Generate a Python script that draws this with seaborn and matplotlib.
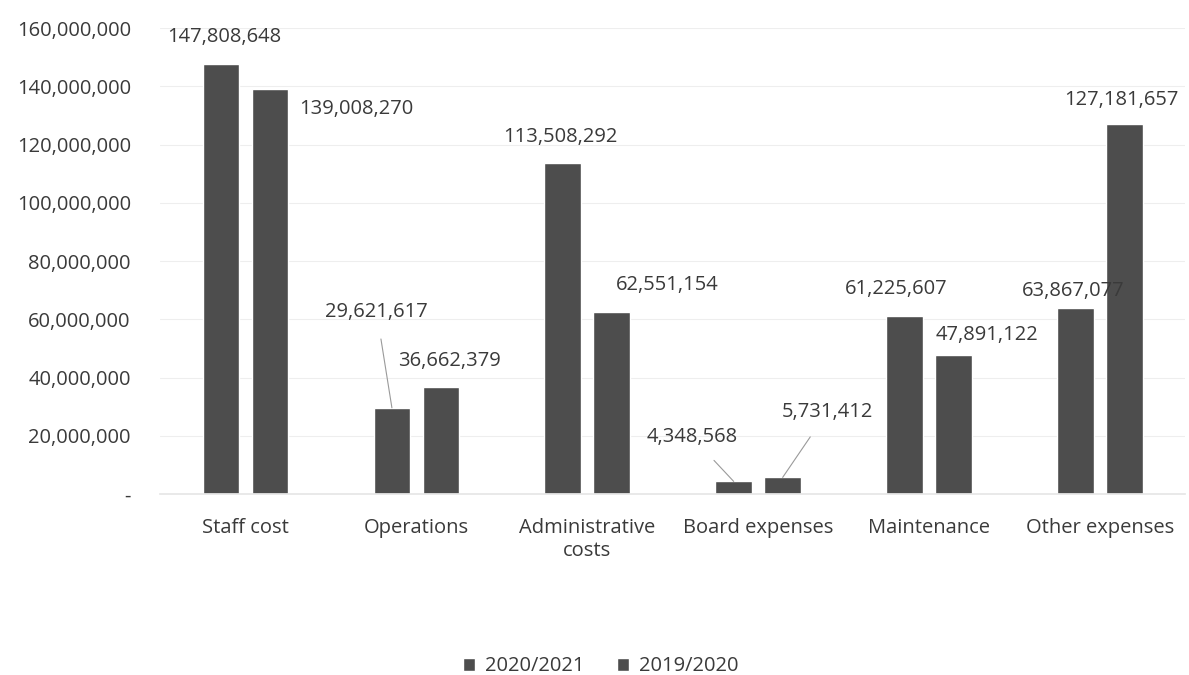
import matplotlib.pyplot as plt
import matplotlib.ticker as mticker
import pandas as pd
import seaborn as sns

# data
categories = ["Staff cost", "Operations", "Administrative\ncosts",
              "Board expenses", "Maintenance", "Other expenses"]
series_names = ["2020/2021", "2019/2020"]
values_2021 = [147808648, 29621617, 113508292, 4348568, 61225607, 63867077]
values_2020 = [139008270, 36662379, 62551154, 5731412, 47891122, 127181657]
y_ticks = [0, 20e6, 40e6, 60e6, 80e6, 100e6, 120e6, 140e6, 160e6]

df = pd.DataFrame({
    "category": categories * 2,
    "year": [series_names[0]] * 6 + [series_names[1]] * 6,
    "value": values_2021 + values_2020,
})

sns.set_theme(style="white")
plt.rcParams["font.family"] = ["Open Sans", "DejaVu Sans"]
text_col = "#3a3a3a"
fs = 14.5

fig = plt.figure(figsize=(11.89, 6.75), dpi=100)
ax = fig.add_axes([0.1346, 0.268, 0.8624, 0.6905])

sns.barplot(data=df, x="category", y="value", hue="year", order=categories,
            hue_order=series_names, palette=["#4d4d4d", "#4d4d4d"],
            width=0.573, gap=0.25, ax=ax, legend=True)

ax.set_ylim(0, 160e6)
ax.set_xlim(-0.5, 5.5)
ax.set_yticks(y_ticks)
ax.yaxis.set_major_formatter(mticker.FuncFormatter(
    lambda v, p: "-" if v == 0 else f"{v:,.0f}"))
ax.grid(axis="y", color="#eeeeee", linewidth=0.8)
ax.set_axisbelow(True)
for s in ["top", "right", "left"]:
    ax.spines[s].set_visible(False)
ax.spines["bottom"].set_color("#e6e6e6")
ax.tick_params(axis="both", length=0, labelsize=fs, colors=text_col)
ax.tick_params(axis="y", pad=21)
ax.tick_params(axis="x", pad=17)
ax.set_xlabel("")
ax.set_ylabel("")

# label placement offsets (points) per bar: (dx, dy, ha, leader line)
offsets_a = [(2, 19, "center", False), (-11, 69, "center", True),
             (-2, 19, "center", False), (-30, 32, "center", True),
             (-6, 19, "center", False), (-2, 12, "center", False)]
offsets_b = [(8, -14, "left", False), (6, 19, "center", False),
             (40, 19, "center", False), (32, 47, "center", True),
             (24, 14, "center", False), (-2, 17, "center", False)]

bars_a, bars_b = ax.containers[0], ax.containers[1]
for bars, vals, offs in [(bars_a, values_2021, offsets_a),
                         (bars_b, values_2020, offsets_b)]:
    for bar, v, (dx, dy, ha, lead) in zip(bars, vals, offs):
        x = bar.get_x() + bar.get_width() / 2
        if ha == "left":
            x = bar.get_x() + bar.get_width()
        ax.annotate(f"{v:,.0f}", xy=(x, v), xytext=(dx, dy),
                    textcoords="offset points", ha=ha, va="center",
                    fontsize=fs, color=text_col,
                    arrowprops=dict(arrowstyle="-", color="#9a9a9a", lw=0.8,
                                    shrinkA=10, shrinkB=0) if lead else None)

leg = ax.legend(loc="lower center", bbox_to_anchor=(0.43, -0.43), ncol=2,
                frameon=False, fontsize=fs, handlelength=0.6, handleheight=0.6,
                handletextpad=0.5, columnspacing=1.6, labelcolor=text_col)

fig.savefig("out.png", dpi=100)
